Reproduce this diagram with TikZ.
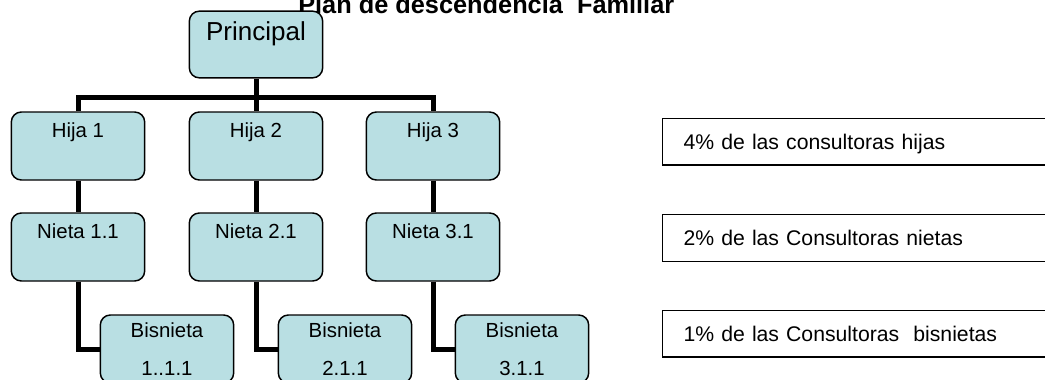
\documentclass[tikz,border=0pt]{standalone}
\usepackage{fontspec}
\setmainfont{Liberation Sans}
\usepackage{tikz}
\definecolor{celeste}{RGB}{185,223,227}
\usetikzlibrary{calc}

\begin{document}
\begin{tikzpicture}[x=0.75pt,y=-0.75pt,
    caja/.style={draw=black, line width=1.1pt, fill=celeste, rounded corners=7.5pt,
        minimum width=100pt, inner xsep=2pt, align=center},
    unalinea/.style={caja, text height=11pt, text depth=24pt, inner ysep=8pt,
        font=\fontsize{15.3}{18}\selectfont},
    doslineas/.style={caja, minimum height=51pt, inner ysep=0pt,
        font=\fontsize{15.3}{28.5}\selectfont},
    nota/.style={draw=black, line width=1pt, anchor=west, text width=300pt,
        align=left, inner xsep=15.75pt, inner ysep=0pt, minimum height=35pt,
        text height=11.5pt, text depth=0pt, font=\fontsize{15.9}{19}\selectfont},
    conn/.style={black, line width=3.75pt}]
    \useasboundingbox (0,0) rectangle (1045,379);

    % Title (cut by the top edge)
    \node[anchor=base west, inner sep=0pt, font=\bfseries\fontsize{19}{22}\selectfont]
        (titulo) at (298,13) {Plan de descendencia\ \ Familiar};

    % Root of the tree
    \node[caja, text height=14pt, text depth=20pt, inner ysep=8pt,
        font=\fontsize{19.5}{23}\selectfont] (principal) at (256,44.5) {Principal};

    % Three branches
    \foreach \i/\x/\num in {1/78/1..1.1, 2/256/2.1.1, 3/433/3.1.1} {
        \node[unalinea] (hija\i) at (\x,146) {Hija \i};
        \node[unalinea] (nieta\i) at (\x,247) {Nieta \i.1};
        \node[doslineas] (bisnieta\i) at (\x+89,349) {Bisnieta\\\num};
    }

    % Connectors
    \coordinate (bus) at (256,97);
    \draw[conn] (principal.south) -- (bus);
    \draw[conn] (hija1.north) |- (bus) -| (hija3.north);
    \draw[conn] (bus) -- (hija2.north);
    \foreach \i in {1,2,3} {
        \draw[conn] (hija\i.south) -- (nieta\i.north);
        \draw[conn] (nieta\i.south) |- (bisnieta\i.west);
    }

    % Percentages on the right
    \foreach \i/\y/\txt in {1/141.5/{4\% de las consultoras hijas},
                            2/238/{2\% de las Consultoras nietas},
                            3/333.5/{1\% de las Consultoras\ \ bisnietas}} {
        \node[nota] (nota\i) at (662,\y) {\txt};
    }
\end{tikzpicture}
\end{document}
